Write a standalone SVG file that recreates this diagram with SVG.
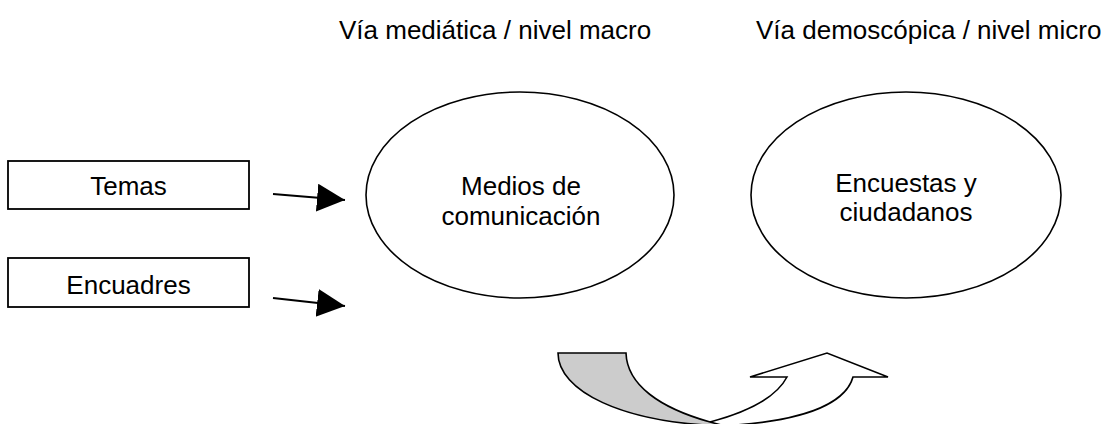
<svg xmlns="http://www.w3.org/2000/svg" width="1110" height="424" viewBox="0 0 1110 424">
<style>
text{font-family:"Liberation Sans",Arial,sans-serif;font-size:26px;fill:#000}
.c{text-anchor:middle}
.box{fill:#fff;stroke:#000;stroke-width:1.8}
.ell{fill:#fff;stroke:#000;stroke-width:1.6}
.conn{stroke:#000;stroke-width:2;fill:none}
.curve{stroke:#000;stroke-width:1.6;stroke-linejoin:miter}
</style>
<defs>
<marker id="ah" markerUnits="userSpaceOnUse" markerWidth="30" markerHeight="30" refX="28" refY="14" orient="auto">
<path d="M0,0 L28,14 L0,28 Z" fill="#000"/>
</marker>
</defs>
<rect width="1110" height="424" fill="#fff"/>
<g id="title-macro"><text x="339" y="39">Vía mediática / nivel macro</text></g>
<g id="title-micro"><text x="756" y="39">Vía demoscópica / nivel micro</text></g>
<g id="temas"><rect class="box" x="8" y="161" width="241" height="48"/><text class="c" x="128.5" y="195">Temas</text></g>
<g id="encuadres"><rect class="box" x="8" y="258" width="241" height="49"/><text class="c" x="128.5" y="294">Encuadres</text></g>
<g id="medios"><ellipse class="ell" cx="520" cy="195" rx="154" ry="103"/><text class="c" x="521" y="195">Medios de</text><text class="c" x="521" y="225">comunicación</text></g>
<g id="encuestas"><ellipse class="ell" cx="906" cy="195" rx="155" ry="103"/><text class="c" x="906" y="192">Encuestas y</text><text class="c" x="906" y="221">ciudadanos</text></g>
<g id="connectors">
<line class="conn" x1="273" y1="194" x2="345" y2="200" marker-end="url(#ah)"/>
<line class="conn" x1="273" y1="298" x2="345" y2="306" marker-end="url(#ah)"/>
</g>
<g id="curved-arrow">
<path class="curve" fill="#fff" d="M710,422 C740,414 775,400 787,377 H750 L827,353 L888,377 H853 C845,405 800,422 720,426 L700,430 Z"/>
<path class="curve" fill="#cccccc" d="M558,353 H626 C627,385 660,408 710,422 L740,430 L730,426 C620,424 558,390 558,353 Z"/>
</g>
</svg>
